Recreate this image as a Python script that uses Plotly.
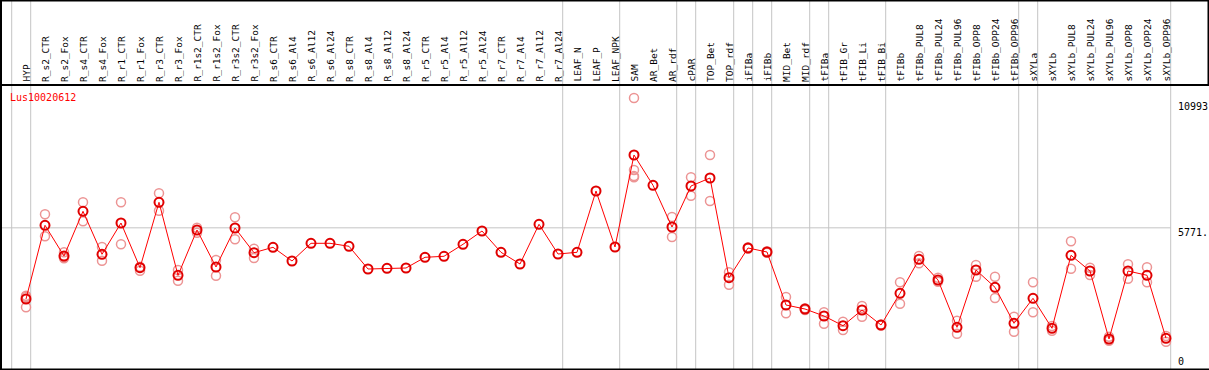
import plotly.graph_objects as go

# ---------------- data ----------------
categories = [
    "HYP", "R_s2_CTR", "R_s2_Fox", "R_s4_CTR", "R_s4_Fox", "R_r1_CTR", "R_r1_Fox",
    "R_r3_CTR", "R_r3_Fox", "R_r1s2_CTR", "R_r1s2_Fox", "R_r3s2_CTR", "R_r3s2_Fox",
    "R_s6_CTR", "R_s6_Al4", "R_s6_Al12", "R_s6_Al24", "R_s8_CTR", "R_s8_Al4",
    "R_s8_Al12", "R_s8_Al24", "R_r5_CTR", "R_r5_Al4", "R_r5_Al12", "R_r5_Al24",
    "R_r7_CTR", "R_r7_Al4", "R_r7_Al12", "R_r7_Al24", "LEAF_N", "LEAF_P", "LEAF_NPK",
    "SAM", "AR_Bet", "AR_rdf", "cPAR", "TOP_Bet", "TOP_rdf", "iFIBa", "iFIBb",
    "MID_Bet", "MID_rdf", "tFIBa", "tFIB_Gr", "tFIB_Li", "tFIB_Bi", "tFIBb",
    "tFIBb_PUL8", "tFIBb_PUL24", "tFIBb_PUL96", "tFIBb_OPP8", "tFIBb_OPP24",
    "tFIBb_OPP96", "sXYLa", "sXYLb", "sXYLb_PUL8", "sXYLb_PUL24", "sXYLb_PUL96",
    "sXYLb_OPP8", "sXYLb_OPP24", "sXYLb_OPP96",
]

means = [
    2703, 5880, 4557, 6484, 4630, 5979, 4052, 6872, 3725, 5678, 4083, 5764, 4699,
    4932, 4341, 5104, 5104, 4975, 3996, 4026, 4039, 4500, 4544, 5061, 5634,
    4716, 4212, 5923, 4643, 4716, 7359, 4945,
    8911, 7605, 5807, 7574, 7919, 3621, 4902, 4729,
    2444, 2272, 1970, 1552, 2229, 1582, 2949,
    4414, 3522, 1483, 3953, 3207, 1655,
    2733, 1440, 4587, 3910, 979, 3910, 3725, 1009,
]

replicates = [
    [2845, 2789, 2345], [6355, 5406], [4716, 4500, 4457], [6872, 6053], [4945, 4354],
    [6872, 5061], [4095, 3923], [7260, 6510], [3953, 3492], [5777, 5561], [4384, 3708],
    [6225, 5277], [4871, 4471],
    [], [], [], [], [], [], [], [], [], [], [], [],
    [], [], [], [], [], [], [],
    [11368, 8264, 8000, 7950], [], [6238, 5376], [7950, 7156], [8911, 6928],
    [3854, 3320], [4880, 4930], [4700, 4760],
    [2789, 2086], [2230, 2300], [2130, 1638], [1724, 1367], [2401, 1940], [1600, 1560],
    [3423, 2500],
    [4557, 4242], [3621, 3449], [1768, 1207], [4169, 3664], [3664, 2746], [1940, 1293],
    [3423, 2130], [1539, 1336], [5190, 4009], [4052, 3738], [1078, 905], [4199, 3578],
    [4070, 3423], [1108, 862],
]

gene_label = "Lus10020612"
tick_values = [0, 5771, 10993]
tick_labels = ["0", "5771.", "10993"]
# group separators are drawn after these column indices
separator_after = [-1, 0, 28, 31, 34, 35, 37, 38, 39, 41, 42, 45, 52, 53, 60]

# ---------------- geometry ----------------
W, H = 1209, 370
n = len(categories)
x_idx = list(range(n))
x0 = -26 / 19
x1 = x0 + W / 19
PX = 0.023197           # pixels per unit value
y_bottom = -8.3 / PX
y_top = 361.7 / PX


def xp(px):  # pixel -> x data
    return x0 + px / 19


def yp(py):  # pixel (from top) -> paper y
    return 1 - py / H


fig = go.Figure()

# replicates
rx, ry = [], []
for i, reps in enumerate(replicates):
    for v in reps:
        rx.append(i)
        ry.append(v)
fig.add_trace(go.Scatter(
    x=rx, y=ry, mode="markers", hoverinfo="skip",
    marker=dict(symbol="circle-open", size=9, color="#ec9494",
                line=dict(width=1.5, color="#ec9494")),
))

# mean line + markers
fig.add_trace(go.Scatter(
    x=x_idx, y=means, mode="lines+markers",
    line=dict(color="#ff0000", width=1),
    marker=dict(symbol="circle-open", size=9, color="#e00000",
                line=dict(width=2, color="#e00000")),
))

shapes = []
gray = "#c4c4c4"
# vertical separators (full height)
for s in separator_after:
    xs = s + 4.7 / 19
    shapes.append(dict(type="line", xref="x", yref="paper", x0=xs, x1=xs,
                       y0=0, y1=1, line=dict(color=gray, width=1), layer="below"))
# horizontal gridline at the middle tick
shapes.append(dict(type="line", xref="x", yref="y", x0=xp(1), x1=60 + 4.7 / 19,
                   y0=tick_values[1], y1=tick_values[1],
                   line=dict(color=gray, width=1), layer="below"))
# black frame
blk = dict(color="#000000", width=2)
shapes.append(dict(type="line", xref="x", yref="paper", x0=xp(1), x1=xp(1),
                   y0=0, y1=1, line=blk))
shapes.append(dict(type="line", xref="x", yref="paper", x0=xp(0), x1=xp(W),
                   y0=yp(0.5), y1=yp(0.5), line=blk))
shapes.append(dict(type="line", xref="x", yref="paper", x0=xp(0), x1=xp(W),
                   y0=yp(85), y1=yp(85), line=blk))
shapes.append(dict(type="line", xref="x", yref="paper", x0=xp(0), x1=xp(W),
                   y0=yp(369.5), y1=yp(369.5), line=blk))
shapes.append(dict(type="line", xref="x", yref="paper", x0=xp(1208.5), x1=xp(1208.5),
                   y0=yp(85), y1=1, line=blk))

annotations = []
mono = "DejaVu Sans Mono"
for i, c in enumerate(categories):
    annotations.append(dict(
        x=i, y=yp(83), xref="x", yref="paper", text=c, textangle=-90,
        showarrow=False, xanchor="center", yanchor="bottom",
        font=dict(family=mono, size=9.5, color="#000000"), borderpad=0,
    ))

annotations.append(dict(
    x=xp(9), y=yp(97), xref="x", yref="paper", text=gene_label, showarrow=False,
    xanchor="left", yanchor="middle", font=dict(family=mono, size=10, color="#ff0000"),
    borderpad=0,
))
label_shift = {0: 0, 5771: -5, 10993: 0}
for v, t in zip(tick_values, tick_labels):
    annotations.append(dict(
        x=xp(1177), y=v, xref="x", yref="y", text=t, showarrow=False,
        xanchor="left", yanchor="middle", yshift=label_shift[v],
        font=dict(family=mono, size=10, color="#000000"), borderpad=0,
    ))

fig.update_layout(
    width=W, height=H, margin=dict(l=0, r=0, t=0, b=0),
    paper_bgcolor="white", plot_bgcolor="white", showlegend=False,
    xaxis=dict(range=[x0, x1], visible=False, fixedrange=True),
    yaxis=dict(range=[y_bottom, y_top], visible=False, fixedrange=True),
    shapes=shapes, annotations=annotations,
)

fig.write_html(
    "out.html",
    config={"displayModeBar": False},
    post_script="document.body.style.margin='0';document.body.style.overflow='hidden';",
)
